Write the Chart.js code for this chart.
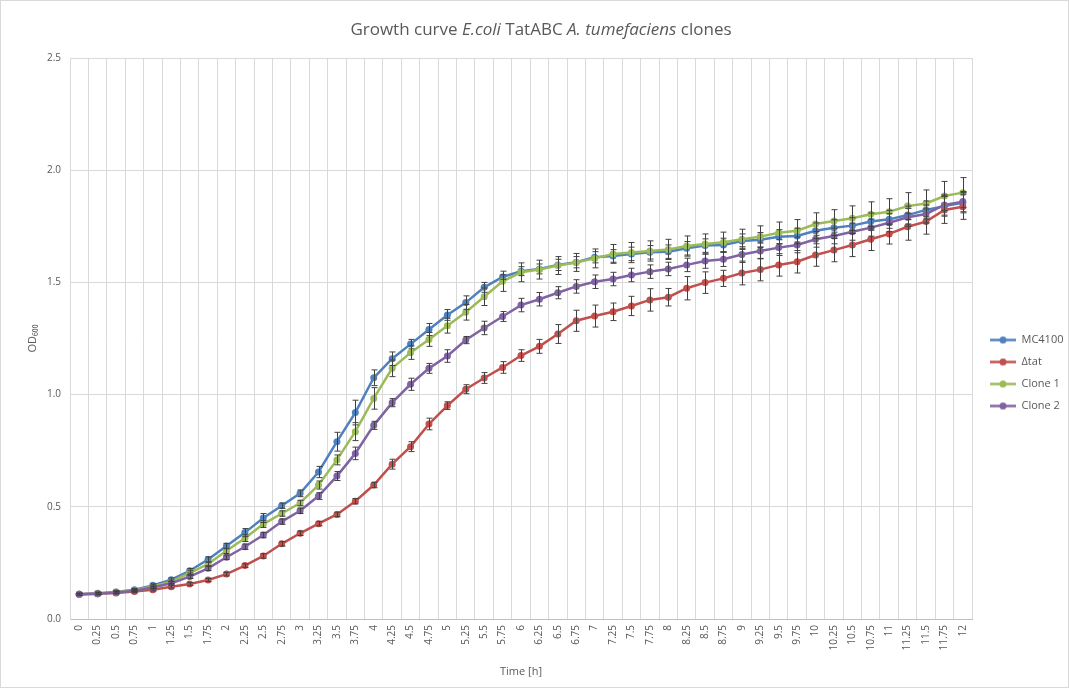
<!DOCTYPE html>
<html>
<head>
<meta charset="utf-8">
<title>Growth curve</title>
<script src="https://cdn.jsdelivr.net/npm/chart.js@4.4.0/dist/chart.umd.min.js"></script>
<style>
  body { margin: 0; background: #fff; }
</style>
</head>
<body>
<canvas id="growth" width="1069" height="688"></canvas>
<script>
// time points (h), every 15 min
const times = ['0', '0.25', '0.5', '0.75', '1', '1.25', '1.5', '1.75', '2', '2.25', '2.5', '2.75',
  '3', '3.25', '3.5', '3.75', '4', '4.25', '4.5', '4.75', '5', '5.25', '5.5', '5.75',
  '6', '6.25', '6.5', '6.75', '7', '7.25', '7.5', '7.75', '8', '8.25', '8.5', '8.75',
  '9', '9.25', '9.5', '9.75', '10', '10.25', '10.5', '10.75', '11', '11.25', '11.5', '11.75', '12'];

const seriesNames = ['MC4100', 'Δtat', 'Clone 1', 'Clone 2'];
const seriesColors = ['#4F81BD', '#C0504D', '#9BBB59', '#8064A2'];

// OD600 means
const mc4100 = [0.11, 0.115, 0.12, 0.13, 0.15, 0.175, 0.215, 0.265, 0.325, 0.385, 0.45, 0.505,
  0.56, 0.655, 0.79, 0.92, 1.075, 1.16, 1.225, 1.29, 1.355, 1.41, 1.478, 1.524,
  1.55, 1.56, 1.578, 1.59, 1.612, 1.618, 1.627, 1.634, 1.637, 1.652, 1.664, 1.667,
  1.684, 1.69, 1.703, 1.707, 1.73, 1.744, 1.753, 1.771, 1.781, 1.8, 1.823, 1.84, 1.855];
const dtat = [0.11, 0.112, 0.116, 0.122, 0.13, 0.144, 0.156, 0.174, 0.2, 0.238, 0.281, 0.335,
  0.382, 0.425, 0.466, 0.525, 0.597, 0.69, 0.768, 0.869, 0.951, 1.024, 1.074, 1.121,
  1.174, 1.215, 1.27, 1.329, 1.35, 1.369, 1.395, 1.422, 1.434, 1.474, 1.499, 1.518,
  1.542, 1.557, 1.578, 1.592, 1.622, 1.644, 1.667, 1.692, 1.716, 1.748, 1.771, 1.823, 1.837];
const clone1 = [0.11, 0.113, 0.12, 0.128, 0.145, 0.166, 0.205, 0.245, 0.304, 0.36, 0.423, 0.47,
  0.517, 0.597, 0.709, 0.835, 0.983, 1.117, 1.187, 1.246, 1.307, 1.367, 1.436, 1.505,
  1.545, 1.557, 1.575, 1.589, 1.607, 1.627, 1.633, 1.64, 1.647, 1.662, 1.671, 1.679,
  1.692, 1.704, 1.721, 1.73, 1.76, 1.774, 1.786, 1.804, 1.815, 1.84, 1.852, 1.885, 1.9];
const clone2 = [0.11, 0.113, 0.118, 0.126, 0.14, 0.159, 0.189, 0.226, 0.275, 0.322, 0.374, 0.434,
  0.482, 0.548, 0.637, 0.738, 0.863, 0.964, 1.046, 1.117, 1.172, 1.243, 1.297, 1.348,
  1.399, 1.425, 1.454, 1.482, 1.503, 1.515, 1.533, 1.548, 1.56, 1.578, 1.595, 1.603,
  1.624, 1.64, 1.655, 1.667, 1.692, 1.707, 1.726, 1.744, 1.766, 1.79, 1.805, 1.845, 1.86];

// standard deviations
const mc4100Err = [0.005, 0.005, 0.005, 0.006, 0.007, 0.008, 0.01, 0.012, 0.012, 0.018, 0.02, 0.012,
  0.015, 0.025, 0.042, 0.055, 0.035, 0.03, 0.021, 0.027, 0.024, 0.03, 0.022, 0.01,
  0.02, 0.022, 0.025, 0.025, 0.025, 0.028, 0.03, 0.03, 0.03, 0.03, 0.03, 0.03,
  0.032, 0.032, 0.032, 0.035, 0.035, 0.035, 0.035, 0.038, 0.04, 0.04, 0.04, 0.045, 0.045];
const dtatErr = [0.004, 0.004, 0.004, 0.005, 0.005, 0.006, 0.006, 0.007, 0.008, 0.008, 0.01, 0.01,
  0.01, 0.01, 0.01, 0.012, 0.012, 0.022, 0.022, 0.026, 0.017, 0.02, 0.024, 0.026,
  0.026, 0.031, 0.042, 0.047, 0.049, 0.039, 0.043, 0.05, 0.039, 0.052, 0.048, 0.036,
  0.053, 0.05, 0.05, 0.05, 0.05, 0.052, 0.052, 0.05, 0.045, 0.06, 0.056, 0.06, 0.056];
const clone1Err = [0.005, 0.005, 0.005, 0.006, 0.007, 0.008, 0.01, 0.01, 0.012, 0.015, 0.015, 0.012,
  0.012, 0.018, 0.022, 0.04, 0.048, 0.037, 0.03, 0.031, 0.033, 0.035, 0.039, 0.045,
  0.042, 0.042, 0.04, 0.04, 0.042, 0.042, 0.045, 0.045, 0.045, 0.045, 0.045, 0.045,
  0.045, 0.048, 0.048, 0.05, 0.05, 0.05, 0.055, 0.055, 0.058, 0.06, 0.06, 0.065, 0.067];
const clone2Err = [0.004, 0.004, 0.005, 0.005, 0.006, 0.007, 0.008, 0.01, 0.01, 0.012, 0.012, 0.012,
  0.012, 0.015, 0.02, 0.028, 0.018, 0.018, 0.027, 0.022, 0.028, 0.016, 0.03, 0.022,
  0.03, 0.03, 0.027, 0.03, 0.03, 0.03, 0.03, 0.03, 0.03, 0.03, 0.032, 0.032,
  0.035, 0.035, 0.035, 0.035, 0.035, 0.035, 0.038, 0.038, 0.04, 0.04, 0.04, 0.045, 0.045];

const seriesValues = [mc4100, dtat, clone1, clone2];
const seriesErrors = [mc4100Err, dtatErr, clone1Err, clone2Err];

const titleParts = [['Growth curve ', false], ['E.coli', true], [' TatABC ', false],
  ['A. tumefaciens', true], [' clones', false]];

const FONT = "'Open Sans', 'Liberation Sans', sans-serif";
const TEXT = '#595959';
const GRID = '#d9d9d9';

// little "line with marker" picture for the legend
function legendMark(color) {
  const c = document.createElement('canvas');
  c.width = 33; c.height = 9;
  const g = c.getContext('2d');
  g.strokeStyle = color;
  g.lineWidth = 2.5;
  g.beginPath(); g.moveTo(7, 4.5); g.lineTo(33, 4.5); g.stroke();
  g.fillStyle = color;
  g.beginPath(); g.arc(20, 4.5, 3.5, 0, Math.PI * 2); g.fill();
  return c;
}

const background = {
  id: 'background',
  beforeDraw(chart) {
    const ctx = chart.ctx;
    ctx.save();
    ctx.fillStyle = '#fff';
    ctx.fillRect(0, 0, chart.width, chart.height);
    ctx.restore();
  },
  afterDraw(chart) {
    const ctx = chart.ctx;
    ctx.save();
    ctx.strokeStyle = GRID;
    ctx.lineWidth = 1;
    ctx.strokeRect(0.5, 0.5, chart.width - 1, chart.height - 1);
    ctx.restore();
  }
};

// title with italic species names
const mixedTitle = {
  id: 'mixedTitle',
  afterDraw(chart) {
    const ctx = chart.ctx;
    ctx.save();
    ctx.fillStyle = TEXT;
    ctx.textBaseline = 'middle';
    const fontFor = it => (it ? 'italic ' : '') + '17px ' + FONT;
    let total = 0;
    titleParts.forEach(([t, it]) => { ctx.font = fontFor(it); total += ctx.measureText(t).width; });
    let x = 541 - total / 2;
    titleParts.forEach(([t, it]) => {
      ctx.font = fontFor(it);
      ctx.fillText(t, x, 30);
      x += ctx.measureText(t).width;
    });
    ctx.restore();
  }
};

// vertical error bars, placed with the chart's own scales
const errorBars = {
  id: 'errorBars',
  afterDatasetsDraw(chart) {
    const ctx = chart.ctx;
    const y = chart.scales.y;
    ctx.save();
    ctx.strokeStyle = '#404040';
    ctx.lineWidth = 1;
    chart.data.datasets.forEach((ds, di) => {
      const meta = chart.getDatasetMeta(di);
      meta.data.forEach((pt, i) => {
        const v = ds.data[i], e = seriesErrors[di][i];
        const top = y.getPixelForValue(v + e);
        const bot = y.getPixelForValue(v - e);
        const x = Math.round(pt.x) + 0.5;
        ctx.beginPath();
        ctx.moveTo(x, top); ctx.lineTo(x, bot);
        ctx.moveTo(x - 3, top); ctx.lineTo(x + 3, top);
        ctx.moveTo(x - 3, bot); ctx.lineTo(x + 3, bot);
        ctx.stroke();
      });
    });
    ctx.restore();
  }
};

const legendWidth = {
  id: 'legendWidth',
  beforeInit(chart) {
    const fit = chart.legend.fit;
    chart.legend.fit = function () {
      fit.call(this);
      this.width = 97;
    };
  }
};

new Chart(document.getElementById('growth'), {
  type: 'line',
  data: {
    labels: times,
    datasets: seriesNames.map((name, i) => ({
      label: name,
      data: seriesValues[i],
      borderColor: seriesColors[i],
      backgroundColor: seriesColors[i],
      borderWidth: 2.5,
      pointRadius: 3.5,
      pointHoverRadius: 3.5,
      pointBorderWidth: 0,
      tension: 0,
      order: seriesNames.length - i
    }))
  },
  options: {
    responsive: false,
    animation: false,
    layout: { padding: { left: 10, top: 58, right: 0, bottom: 0 } },
    plugins: {
      title: { display: false },
      tooltip: { enabled: false },
      legend: {
        position: 'right',
        labels: {
          color: TEXT,
          font: { family: FONT, size: 11 },
          usePointStyle: true,
          pointStyleWidth: 33,
          padding: 11,
          sort: (a, b) => a.datasetIndex - b.datasetIndex,
          generateLabels(chart) {
            const items = Chart.defaults.plugins.legend.labels.generateLabels(chart);
            items.forEach(it => { it.pointStyle = legendMark(seriesColors[it.datasetIndex]); });
            return items;
          }
        }
      }
    },
    scales: {
      x: {
        type: 'category',
        offset: true,
        grid: { color: GRID, offset: true, drawTicks: false },
        border: { color: '#bfbfbf' },
        ticks: {
          autoSkip: false,
          minRotation: 90,
          maxRotation: 90,
          padding: 6,
          color: TEXT,
          font: { family: FONT, size: 10 }
        },
        title: {
          display: true,
          text: 'Time [h]',
          color: TEXT,
          font: { family: FONT, size: 11 },
          padding: { top: 4, bottom: 10 }
        },
        afterFit(scale) { scale.height = 69; }
      },
      y: {
        min: 0,
        max: 2.5,
        grid: { color: GRID, drawTicks: false },
        border: { color: GRID },
        ticks: {
          stepSize: 0.5,
          padding: 9,
          color: TEXT,
          font: { family: FONT, size: 10 },
          callback: v => v.toFixed(1)
        },
        title: {
          display: true,
          text: 'OD₆₀₀',
          color: TEXT,
          font: { family: FONT, size: 11 },
          padding: { top: 16, bottom: 4 }
        },
        afterFit(scale) { scale.width = 60; }
      }
    }
  },
  plugins: [background, mixedTitle, errorBars, legendWidth]
});
</script>
</body>
</html>
